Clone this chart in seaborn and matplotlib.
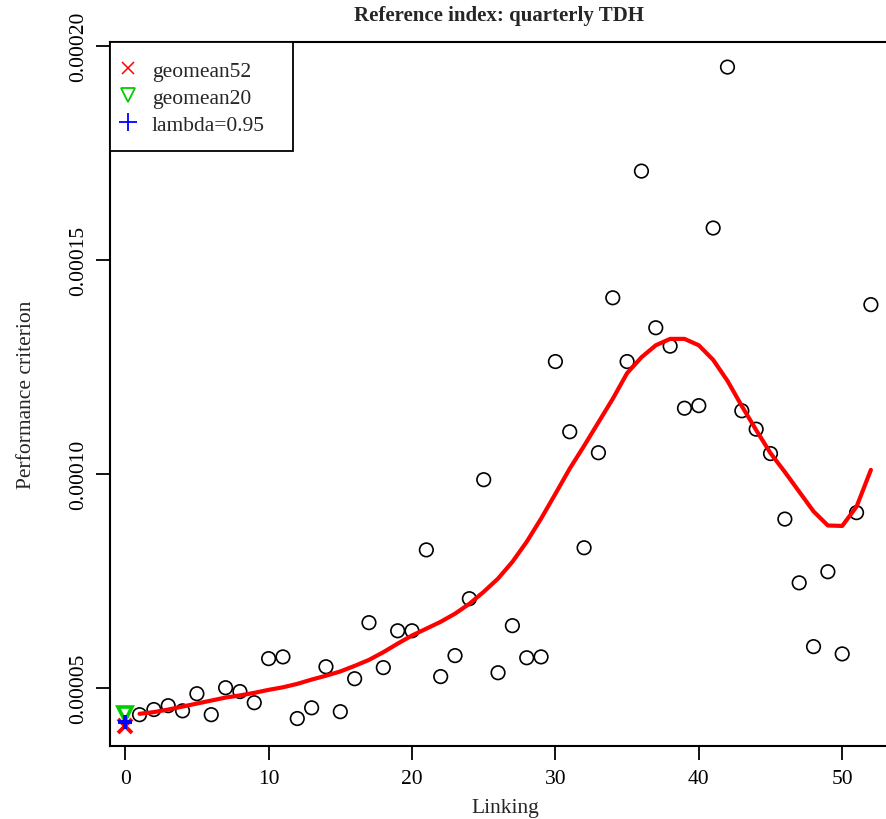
import numpy as np
import pandas as pd
import matplotlib
matplotlib.use("Agg")
import matplotlib.pyplot as plt
from matplotlib.lines import Line2D
from matplotlib.patches import Rectangle
import seaborn as sns

# Linking lag and performance criterion (units of 1e-6)
linking = list(range(1, 53))
criterion = [43.7, 44.9, 45.8, 44.6, 48.6, 43.7, 50.0, 49.1, 46.5, 56.8,
             57.2, 42.8, 45.3, 54.9, 44.4, 52.1, 65.2, 54.7, 63.3, 63.3,
             82.2, 52.6, 57.5, 70.8, 98.6, 53.5, 64.5, 57.0, 57.2, 126.2,
             109.8, 82.7, 104.9, 141.1, 126.2, 170.7, 134.1, 129.8, 115.3, 115.9,
             157.4, 195.0, 114.7, 110.4, 104.7, 89.4, 74.5, 59.6, 77.1, 57.9,
             90.9, 139.5]

# Smoothed criterion curve
smooth = [43.9, 44.3, 44.9, 45.6, 46.3, 47.0, 47.7, 48.2, 48.8, 49.5,
          50.1, 50.9, 51.9, 52.8, 53.8, 55.1, 56.5, 58.3, 60.3, 62.2,
          63.8, 65.4, 67.3, 69.6, 72.4, 75.5, 79.4, 84.1, 89.5, 95.3,
          101.2, 106.5, 112.0, 117.5, 123.5, 127.2, 130.0, 131.5, 131.5, 130.0,
          126.6, 121.7, 115.8, 110.2, 104.8, 100.4, 95.8, 91.2, 87.9, 87.8,
          92.3, 100.9]

# Benchmark values at linking 0
bench_names = ["geomean52", "geomean20", "lambda=0.95"]
bench_values = [41.0, 43.9, 42.1]
bench_colors = ["#FF0000", "#00CD00", "#0000FF"]
bench_markers = ["x", "v", "+"]

yticks = [50, 100, 150, 200]
ytick_labels = ["0.00005", "0.00010", "0.00015", "0.00020"]
xticks = [0, 10, 20, 30, 40, 50]

sns.set_style("ticks")
plt.rcParams["font.family"] = ["Liberation Serif", "DejaVu Serif"]

FS = 15.5
scale = 1e-6
df = pd.DataFrame({"Linking": linking,
                   "criterion": np.array(criterion) * scale,
                   "smooth": np.array(smooth) * scale})

fig = plt.figure(figsize=(8.87, 8.20), dpi=100)
W, H = 887, 820
left, right, top, bottom = 110.5, 900.0, 43.0, 746.5
aw, ah = right - left, bottom - top
ax = fig.add_axes([left / W, 1 - bottom / H, aw / W, ah / H])

sns.scatterplot(data=df, x="Linking", y="criterion", ax=ax, marker="o",
                s=95, facecolor="none", edgecolor="black", linewidth=1.2,
                zorder=3, legend=False)
sns.lineplot(data=df, x="Linking", y="smooth", ax=ax, color="#FF0000",
             linewidth=3.0, zorder=4, legend=False)

for v, c, m in zip(bench_values, bench_colors, bench_markers):
    if m == "v":
        ax.plot([0], [v * scale], marker=m, markersize=10, markerfacecolor="none",
                markeredgecolor=c, markeredgewidth=2.6, linestyle="none", zorder=5)
    else:
        ax.plot([0], [v * scale], marker=m, markersize=10, color=c,
                markeredgewidth=2.8, linestyle="none", zorder=5)

ax.set_xlim(-1.025, 54.03)
ax.set_ylim(36.5 * scale, 200.86 * scale)

ax.set_xticks(xticks)
ax.set_xticklabels([str(t) for t in xticks])
ax.set_yticks([t * scale for t in yticks])
ax.set_yticklabels(ytick_labels, rotation=90, va="center")

for s in ax.spines.values():
    s.set_linewidth(1.5)
    s.set_color("black")
ax.tick_params(axis="both", direction="out", length=10, width=1.3,
               labelsize=FS, colors="black")
ax.tick_params(axis="x", pad=7)
ax.tick_params(axis="y", pad=6)

ax.set_xlabel("Linking", fontsize=FS, labelpad=7)
ax.set_ylabel("Performance criterion", fontsize=FS, labelpad=24)
fig.text(0.5 * (110.5 + 887) / W, 1 - 16 / H, "Reference index: quarterly TDH",
         ha="center", va="center", fontsize=15, fontweight="bold")

# Legend box in the top-left corner of the panel
box = Rectangle((0, 1 - (152 - top) / ah), (293 - left) / aw, (152 - top) / ah,
                transform=ax.transAxes, facecolor="white", edgecolor="black",
                linewidth=1.3, zorder=6, clip_on=False)
ax.add_patch(box)

handles = [
    Line2D([], [], marker="x", color="#FF0000", linestyle="none", markersize=9, markeredgewidth=1.1),
    Line2D([], [], marker="v", markerfacecolor="none", markeredgecolor="#00CD00",
           linestyle="none", markersize=10, markeredgewidth=1.3),
    Line2D([], [], marker="+", color="#0000FF", linestyle="none", markersize=13, markeredgewidth=1.3),
]
leg = ax.legend(handles, bench_names, loc="upper left",
                bbox_to_anchor=((118.3 - left) / aw, 1 - (61.5 - top) / ah),
                borderaxespad=0, borderpad=0, frameon=False, fontsize=FS,
                handlelength=0.9, handletextpad=0.66, labelspacing=0.33)
leg.set_zorder(7)

fig.savefig("out.png", dpi=100)
